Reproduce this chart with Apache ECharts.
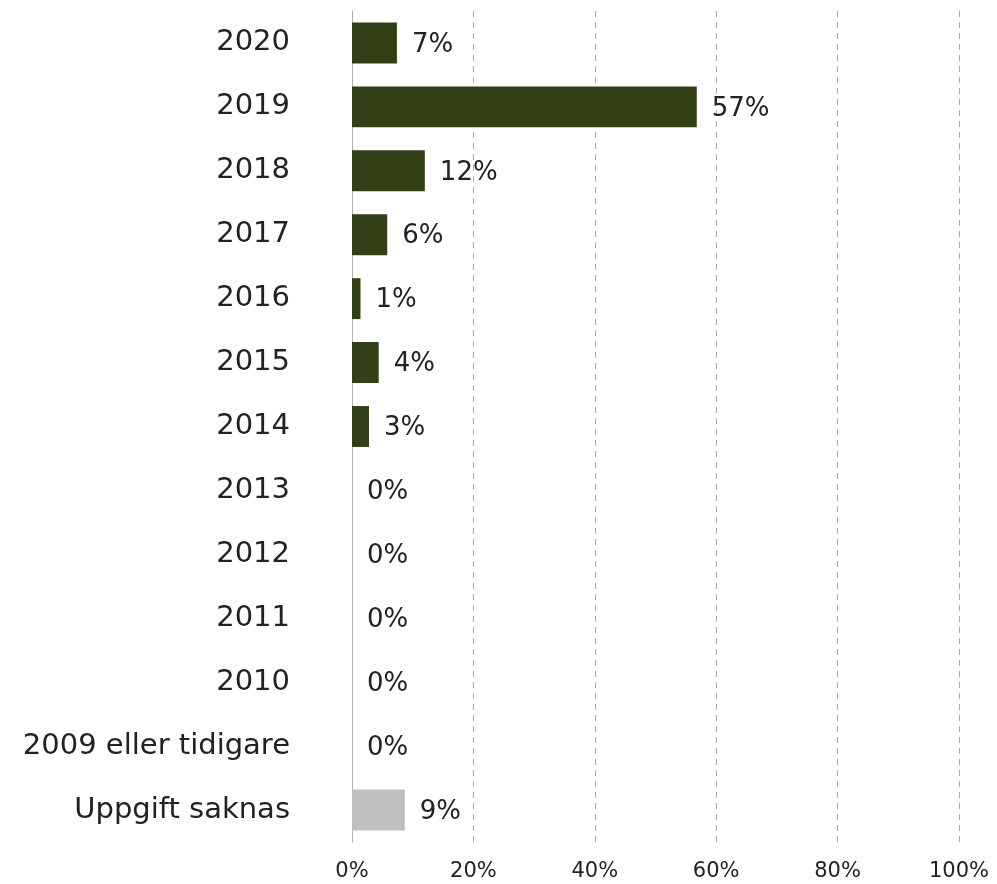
<!DOCTYPE html>
<html>
<head>
<meta charset="utf-8">
<script src="https://cdn.jsdelivr.net/npm/echarts@6/dist/echarts.min.js"></script>
<style>
  html, body { margin: 0; padding: 0; background: #fff; }
  #chart { width: 997px; height: 884px; }
</style>
</head>
<body>
<div id="chart"></div>
<script>
// kategorier (uppifrån och ned)
const years = ['2020', '2019', '2018', '2017', '2016', '2015', '2014', '2013', '2012', '2011', '2010', '2009 eller tidigare', 'Uppgift saknas']
// andel i procent
const shares = [7.4, 56.8, 12.0, 5.8, 1.4, 4.4, 2.8, 0, 0, 0, 0, 0, 8.7]
const xTicks = [0, 20, 40, 60, 80, 100]

const barColor = '#334016'
const missingColor = '#bfbfbf'
const font = '"DejaVu Sans", Verdana, sans-serif'

const chart = echarts.init(document.getElementById('chart'))

chart.setOption({
  animation: false,
  grid: { left: 352, right: 38, top: 11, bottom: 42 },
  xAxis: {
    type: 'value',
    min: xTicks[0],
    max: xTicks[xTicks.length - 1],
    interval: 20,
    axisLine: { show: false },
    axisTick: { show: false },
    axisLabel: {
      formatter: '{value}%',
      fontFamily: font,
      fontSize: 21,
      color: '#222',
      margin: 19
    },
    splitLine: {
      show: true,
      lineStyle: { color: '#aaaaaa', type: [6, 5], width: 1 }
    }
  },
  yAxis: {
    type: 'category',
    inverse: true,
    data: years,
    axisLine: { show: true, lineStyle: { color: '#b0b0b0', width: 1 } },
    axisTick: { show: false },
    axisLabel: {
      fontFamily: font,
      fontSize: 29,
      color: '#222',
      margin: 62
    }
  },
  series: [{
    type: 'bar',
    barCategoryGap: '36%',
    data: shares.map((v, i) => ({
      value: v,
      itemStyle: { color: i === shares.length - 1 ? missingColor : barColor }
    })),
    label: {
      show: true,
      position: 'right',
      distance: 15,
      offset: [0, 2],
      fontFamily: font,
      fontSize: 26,
      color: '#222',
      formatter: p => Math.round(p.value) + '%'
    }
  }]
})
</script>
</body>
</html>
